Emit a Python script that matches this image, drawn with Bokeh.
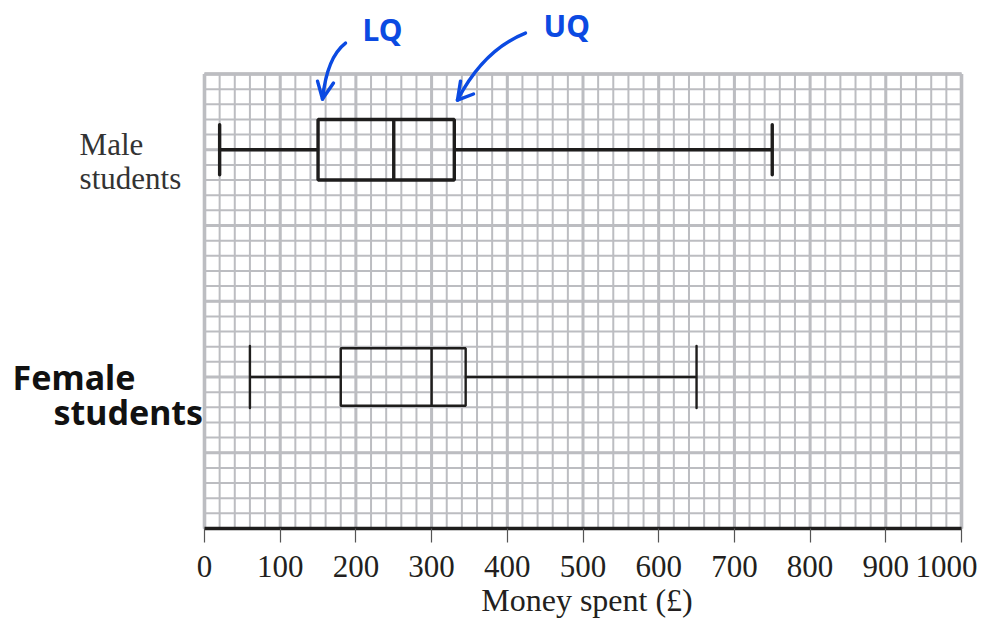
import numpy as np
from bokeh.plotting import figure
from bokeh.models import Range1d, FixedTicker, ColumnDataSource, LinearAxis
from bokeh.core.properties import value
from bokeh.embed import file_html
from bokeh.resources import INLINE

# ---------------- data ----------------
groups = ["Male students", "Female students"]
minimum = [20, 60]
lower_q = [150, 180]
median = [250, 300]
upper_q = [330, 345]
maximum = [750, 650]

x_ticks = [0, 100, 200, 300, 400, 500, 600, 700, 800, 900, 1000]
x_tick_labels = ["0", "100", "200", "300", "400", "500", "600", "700", "800", "900", "1000"]
axis_title = "Money spent (£)"

# ---------------- layout / style ----------------
row_y = [25.0, 10.0]
box_half = [2.0, 1.9]
cap_half = [1.65, 2.05]
line_w = [3.4, 2.4]
INK = "#1e1d1c"
GRID = "#bcbdc1"
BLUE = "#0b4ae2"
PX_X = 0.757   # px per £
PX_Y = 15.15   # px per grid row
W, H = 977, 619
X0_PX, Y0_PX = 204, 528   # where (0, 0) sits on the canvas

p = figure(width=W, height=H,
           x_range=Range1d(-X0_PX / PX_X, (W - X0_PX) / PX_X),
           y_range=Range1d(-(H - Y0_PX) / PX_Y, Y0_PX / PX_Y),
           output_backend="svg", toolbar_location=None,
           x_axis_location=None, y_axis_location=None,
           min_border=0, min_border_left=0, min_border_right=0,
           min_border_top=0, min_border_bottom=0,
           outline_line_color=None, background_fill_color="white", border_fill_color="white")
p.grid.visible = False

# ---------------- graph paper ----------------
vx = np.arange(0, 1001, 20)
hy = np.arange(0, 31, 1)
p.segment(x0=vx, y0=0, x1=vx, y1=30, line_color=GRID, line_width=2.0)
p.segment(x0=0, y0=hy, x1=1000, y1=hy, line_color=GRID, line_width=2.0)
vmaj = vx[vx % 100 == 0]
hmaj = hy[hy % 5 == 0]
p.segment(x0=vmaj, y0=0, x1=vmaj, y1=30, line_color=GRID, line_width=3.0)
p.segment(x0=0, y0=hmaj, x1=1000, y1=hmaj, line_color=GRID, line_width=3.0)
p.segment(x0=[0, 1000], y0=0, x1=[0, 1000], y1=30, line_color=GRID, line_width=3.6)
p.segment(x0=0, y0=30, x1=1000, y1=30, line_color=GRID, line_width=3.6)

# ---------------- box plots ----------------
src = ColumnDataSource(dict(
    grp=groups, mn=minimum, lq=lower_q, md=median, uq=upper_q, mx=maximum,
    y=row_y,
    bb=[c - h for c, h in zip(row_y, box_half)],
    bt=[c + h for c, h in zip(row_y, box_half)],
    cb=[c - h for c, h in zip(row_y, cap_half)],
    ct=[c + h for c, h in zip(row_y, cap_half)],
    lw=line_w,
))
p.segment(x0="mn", y0="y", x1="lq", y1="y", source=src, line_color=INK, line_width="lw")
p.segment(x0="uq", y0="y", x1="mx", y1="y", source=src, line_color=INK, line_width="lw")
p.segment(x0="mn", y0="cb", x1="mn", y1="ct", source=src, line_color=INK, line_width="lw", line_cap="round")
p.segment(x0="mx", y0="cb", x1="mx", y1="ct", source=src, line_color=INK, line_width="lw", line_cap="round")
p.quad(left="lq", right="uq", bottom="bb", top="bt", source=src,
       fill_color=None, line_color=INK, line_width="lw")
p.segment(x0="md", y0="bb", x1="md", y1="bt", source=src, line_color=INK, line_width="lw")

# ---------------- row labels ----------------
p.text(x=[-165, -165], y=[25.35, 23.07], text=["Male", "students"],
       text_font=value("Liberation Serif"), text_font_size="31px",
       text_color="#333333", text_baseline="middle", text_align="left")
p.text(x=[-253.6, -199.5], y=[9.97, 7.66], text=["Female", "students"],
       text_font=value("Noto Sans"), text_font_size="34px", text_font_style="bold",
       text_color="#111111", text_baseline="middle", text_align="left")

# ---------------- hand annotations (LQ / UQ) ----------------
lq_m, uq_m = lower_q[0], upper_q[0]
p.text(x=[lq_m + 58.7, uq_m + 117.8], y=[32.97, 33.23], text=["LQ", "UQ"],
       text_font=value("Noto Sans"), text_font_size="30px", text_font_style="bold",
       text_color=BLUE, text_baseline="middle", text_align="left")
p.quadratic(x0=[lq_m + 36.3, uq_m + 94.0], y0=[32.04, 32.7],
            x1=[lq_m + 5.9, uq_m + 4.2], y1=[28.35, 28.28],
            cx=[lq_m + 11.7, uq_m + 38.5], cy=[31.1, 31.6],
            line_color=BLUE, line_width=3.4, line_cap="round")
p.segment(x0=[lq_m - 0.7, lq_m + 20.4, uq_m + 8.2, uq_m + 25.4],
          y0=[29.53, 29.4, 29.53, 28.68],
          x1=[lq_m + 5.9, lq_m + 5.9, uq_m + 4.2, uq_m + 4.2],
          y1=[28.35, 28.35, 28.28, 28.28],
          line_color=BLUE, line_width=3.4, line_cap="round")

# ---------------- axis (fixed at y = 0) ----------------
overrides = {t: l for t, l in zip(x_ticks, x_tick_labels)}
overrides[x_ticks[-1]] = ""   # last label drawn right-aligned so it stays inside the page
ax = LinearAxis(fixed_location=0, ticker=FixedTicker(ticks=x_ticks),
                major_label_overrides=overrides, bounds=(x_ticks[0], x_ticks[-1]))
ax.axis_line_width = 3.5
ax.axis_line_color = INK
ax.major_tick_out = 14
ax.major_tick_in = 0
ax.major_tick_line_color = "#555555"
ax.major_tick_line_width = 1.2
ax.minor_tick_line_color = None
ax.major_label_text_font = "Liberation Serif"
ax.major_label_text_font_size = "31px"
ax.major_label_text_color = "#231f20"
ax.major_label_standoff = 13
p.add_layout(ax, "below")

p.text(x=[x_ticks[-1]], y=[-2.54], x_offset=[16], text=[x_tick_labels[-1]],
       text_font=value("Liberation Serif"), text_font_size="31px",
       text_color="#231f20", text_baseline="middle", text_align="right")
p.text(x=[(x_ticks[0] + x_ticks[-1]) / 2], y=[-4.75], x_offset=[4], text=[axis_title],
       text_font=value("Liberation Serif"), text_font_size="32px",
       text_color="#231f20", text_baseline="middle", text_align="center")

open("out.html", "w").write(file_html(p, INLINE))
